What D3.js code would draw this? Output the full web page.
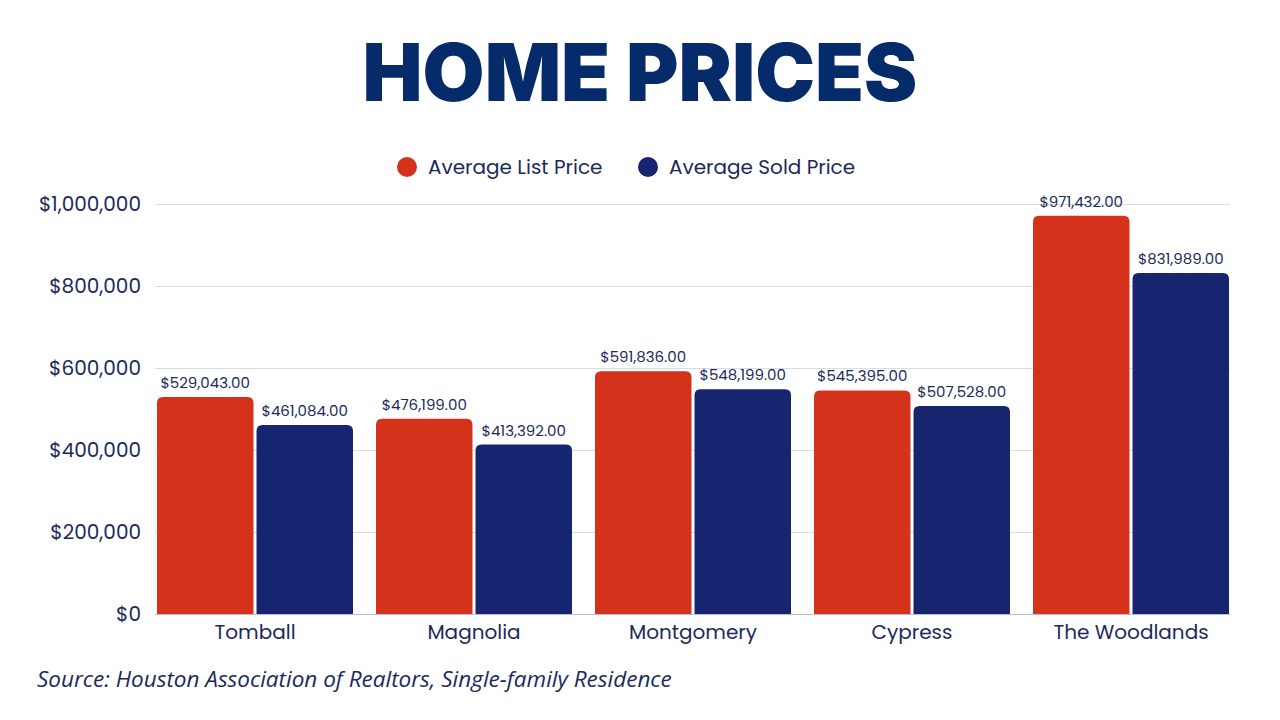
<!DOCTYPE html>
<html>
<head>
<meta charset="utf-8">
<script src="https://cdn.jsdelivr.net/npm/d3@7"></script>
<style>
  body { margin: 0; background: #fff; }
  svg { display: block; }
</style>
</head>
<body>
<svg id="chart" width="1280" height="720"></svg>
<script>
var categories = ['Tomball', 'Magnolia', 'Montgomery', 'Cypress', 'The Woodlands'];
var seriesNames = ['Average List Price', 'Average Sold Price'];
var listPrice = [529043, 476199, 591836, 545395, 971432];
var soldPrice = [461084, 413392, 548199, 507528, 831989];
var yTicks = [0, 200000, 400000, 600000, 800000, 1000000];

var colors = ['#d4321b', '#172470'];
var textColor = '#1b2a5c';

var svg = d3.select('#chart');
var width = +svg.attr('width');

var x0 = d3.scaleBand().domain(categories).range([157, 1229]).paddingInner(23 / 219).paddingOuter(0);
var x1 = d3.scaleBand().domain(seriesNames).range([0, x0.bandwidth()]).paddingInner(6 / 196);
var y = d3.scaleLinear().domain([0, 1000000]).range([614, 204]);

// title
svg.append('text')
  .attr('x', width / 2).attr('y', 101)
  .attr('text-anchor', 'middle')
  .style('font-family', 'Inter, "DejaVu Sans", sans-serif')
  .style('font-weight', 900)
  .style('font-size', '80px')
  .attr('fill', '#062b6b')
  .text('HOME PRICES');

// legend
var legendX = [407, 648];
seriesNames.forEach(function(name, i) {
  var g = svg.append('g').attr('transform', 'translate(' + legendX[i] + ',167)');
  g.append('circle').attr('r', 10).attr('fill', colors[i]);
  g.append('text')
    .attr('x', 21).attr('y', 7)
    .style('font-family', 'Poppins, Inter, sans-serif')
    .style('font-size', '20px')
    .attr('fill', textColor)
    .text(name);
});

// gridlines
svg.append('g')
  .selectAll('line')
  .data(yTicks)
  .enter()
  .append('line')
  .attr('x1', 155).attr('x2', 1230)
  .attr('y1', function(d) { return y(d) + 0.5; })
  .attr('y2', function(d) { return y(d) + 0.5; })
  .attr('stroke', function(d) { return d === 0 ? '#b9bfcc' : '#d9dce4'; })
  .attr('stroke-width', 1);

// y axis labels
var yAxis = d3.axisLeft(y).tickValues(yTicks).tickSize(0).tickPadding(0)
  .tickFormat(function(d) { return '$' + d3.format(',')(d); });
var yg = svg.append('g').attr('transform', 'translate(141,0)').call(yAxis);
yg.select('.domain').remove();
yg.selectAll('text')
  .style('font-family', 'Poppins, Inter, sans-serif')
  .style('font-size', '20px')
  .attr('fill', textColor);

// x axis labels
var xAxis = d3.axisBottom(x0).tickSize(0).tickPadding(0);
var xg = svg.append('g').attr('transform', 'translate(0,625)').call(xAxis);
xg.select('.domain').remove();
xg.selectAll('text')
  .style('font-family', 'Poppins, Inter, sans-serif')
  .style('font-size', '20px')
  .attr('fill', textColor);

// bars
var rows = categories.map(function(c, i) {
  return { cat: c, values: [listPrice[i], soldPrice[i]] };
});

var groups = svg.append('g')
  .selectAll('g')
  .data(rows)
  .enter()
  .append('g')
  .attr('transform', function(d) { return 'translate(' + x0(d.cat) + ',0)'; });

var bars = groups.selectAll('g.bar')
  .data(function(d) {
    return d.values.map(function(v, i) { return { key: seriesNames[i], value: v, idx: i }; });
  })
  .enter()
  .append('g')
  .attr('class', 'bar');

// rounded top corners only
bars.append('path')
  .attr('fill', function(d) { return colors[d.idx]; })
  .attr('d', function(d) {
    var bx = x1(d.key), bw = x1.bandwidth(), top = y(d.value), bottom = y(0), r = 6;
    return 'M' + bx + ',' + bottom +
      'V' + (top + r) +
      'Q' + bx + ',' + top + ' ' + (bx + r) + ',' + top +
      'H' + (bx + bw - r) +
      'Q' + (bx + bw) + ',' + top + ' ' + (bx + bw) + ',' + (top + r) +
      'V' + bottom + 'Z';
  });

bars.append('text')
  .attr('x', function(d) { return x1(d.key) + x1.bandwidth() / 2; })
  .attr('y', function(d) { return y(d.value) - 9; })
  .attr('text-anchor', 'middle')
  .style('font-family', 'Poppins, Inter, sans-serif')
  .style('font-size', '15px')
  .attr('fill', textColor)
  .text(function(d) { return '$' + d3.format(',.2f')(d.value); });

// source note
svg.append('text')
  .attr('x', 37).attr('y', 687)
  .style('font-family', '"Open Sans", sans-serif')
  .style('font-style', 'italic')
  .style('font-size', '22.5px')
  .attr('fill', textColor)
  .text('Source: Houston Association of Realtors, Single-family Residence');
</script>
</body>
</html>
